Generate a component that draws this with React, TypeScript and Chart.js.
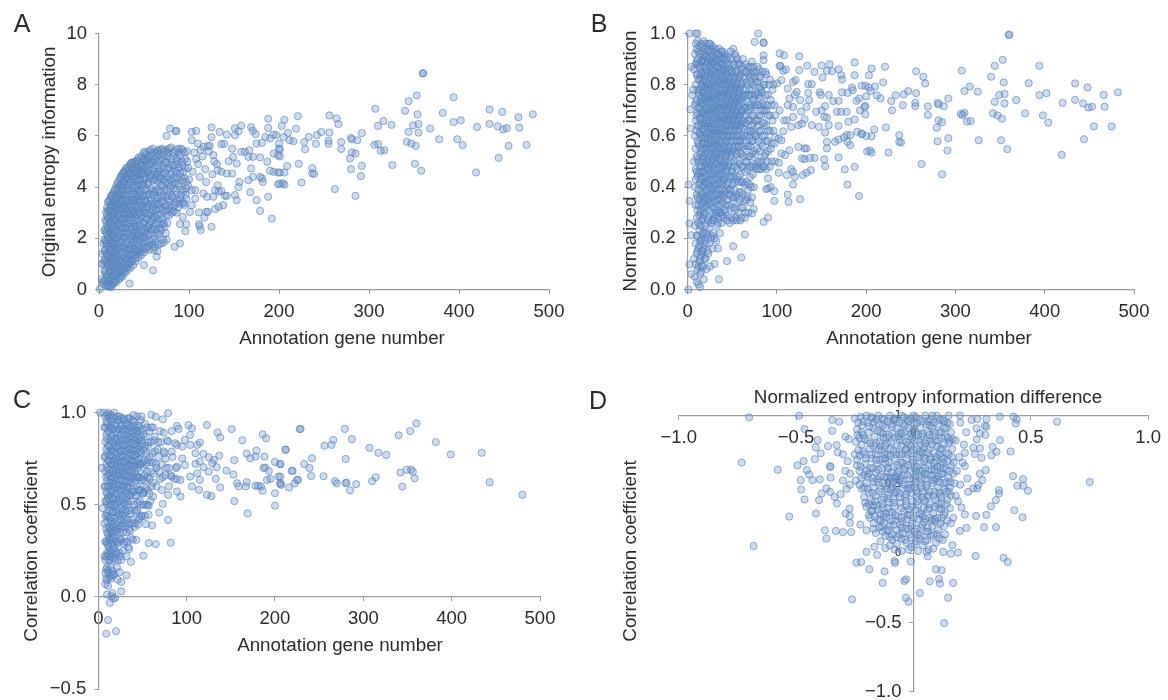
import React, { useEffect, useRef } from "react";
import { Chart, registerables } from "chart.js";

Chart.register(...registerables);

type P = number[];

const panelASparse: P[] = [[360,8.44],[360,8.45],[353,7.58],[344,7.36],[340,6.98],[394,7.51],[307,7.06],[382,6.9],[354,6.84],[434,7.03],[448,6.94],[466,6.73],[482,6.84],[221,6.77],[206,6.63],[256,6.8],[264,6.68],[266,6.46],[203,6.39],[219,6.28],[310,6.39],[316,6.58],[325,6.43],[349,6.41],[355,6.46],[394,6.54],[402,6.61],[420,6.35],[434,6.47],[443,6.37],[449,6.25],[453,6.3],[467,6.32],[368,6.29],[344,6.16],[355,6.13],[292,6.11],[256,6.13],[247,6.15],[242,6.03],[233,5.96],[210,6.12],[205,5.95],[212,5.83],[216,5.79],[228,5.76],[241,5.69],[255,5.81],[255,5.69],[269,5.76],[280,5.92],[281,5.87],[287,5.83],[306,5.65],[310,5.68],[342,5.77],[347,5.7],[352,5.61],[378,5.87],[398,5.87],[404,5.64],[455,5.61],[475,5.65],[229,5.48],[269,5.49],[281,5.36],[285,5.31],[313,5.42],[317,5.44],[279,5.12],[444,5.14],[201,5.47],[201,5.2],[222,4.91],[209,4.82],[237,4.74],[237,4.53],[239,4.52],[292,4.83],[280,4.7],[326,4.86],[351,4.91],[358,4.64],[419,4.57],[291,4.43],[206,4.57],[201,4.57],[225,4.18],[206,4.1],[204,4.15],[201,4.13],[262,3.92],[285,3.66]];

const panelAMiddle: P[] = [[79,6.29],[75,6],[86,6.2],[85,6.18],[103,6.16],[108,6.2],[125,6.33],[125,5.95],[134,6.16],[142,6.05],[151,6.3],[151,6.03],[155,6.18],[158,6.4],[169,6.34],[171,6.2],[174,6.07],[188,6.67],[188,6.31],[185,5.96],[103,5.83],[110,5.7],[116,5.57],[121,5.6],[136,5.68],[139,5.69],[148,5.5],[158,5.38],[162,5.38],[167,5.44],[175,5.7],[181,5.73],[190,5.9],[194,6.05],[197,6.03],[200,5.7],[200,5.5],[194,5.31],[199,5.25],[179,5.16],[171,5.18],[166,5.18],[149,5.18],[153,4.92],[144,5.01],[187,4.99],[190,4.64],[194,4.6],[199,4.57],[132,4.66],[136,4.6],[142,4.53],[148,4.53],[169,4.73],[166,4.27],[171,4.4],[179,4.4],[181,4.34],[182,4.2],[156,4.2],[155,4],[151,3.69],[153,3.49],[168,3.8],[175,3.49],[179,3.07],[188,3.62],[192,2.77],[199,4.11],[132,4.07],[129,3.88],[133,3.82],[136,3.85],[140,3.66],[142,3.66],[138,3.29],[133,3.23],[129,3.14],[125,2.45],[112,2.47],[113,2.32],[111,2.55],[96,2.28],[97,2.55],[90,2.55],[93,2.84],[90,1.8],[84,1.67],[101,3.03],[111,3.01],[119,3.03],[121,3.03],[117,2.81],[94,3.36],[103,3.29],[107,3.55],[116,3.75],[120,3.62],[127,3.62],[97,3.95],[103,3.88],[107,3.88],[104,4.6],[108,5.1],[112,4.4],[115,5.2],[118,4.7],[122,5.4],[126,4.5],[128,5],[131,4.9],[119,4.2],[110,4.9],[106,5.35],[100,4.3],[96,5.1],[99,4.75],[123,5.62],[113,5.45],[127,5.25]];

const panelADense: P[] = [[1,0.02],[3,0.4],[3,1],[4,0.3],[4,1.4],[5,0.22],[5,1.02],[5,1.8],[6,0.7],[6,1.5],[6,2.3],[7,0.33],[7,1.12],[7,1.9],[7,2.72],[8,0.62],[8,1.4],[8,2.24],[8,3.02],[9,0.2],[9,1.02],[9,1.72],[9,2.5],[9,3.2],[10,0.5],[10,1.33],[10,2.02],[10,2.8],[10,3.42],[11,0.12],[11,0.85],[11,1.6],[11,2.42],[11,3.12],[12,0.32],[12,1.13],[12,1.9],[12,2.63],[12,3.5],[13,0.08],[13,0.72],[13,1.42],[13,2.2],[13,3],[13,3.62],[14,0.45],[14,1.2],[14,1.77],[14,2.5],[14,3.3],[15,0.2],[15,0.9],[15,1.6],[15,2.1],[15,2.85],[15,3.72],[16,0.6],[16,1.32],[16,2.4],[16,3.1],[16,3.45],[17,0.3],[17,1.05],[17,1.85],[17,2.65],[17,3.85],[18,0.75],[18,1.5],[18,2.2],[18,2.95],[18,3.55],[19,0.28],[19,1.2],[19,1.95],[19,3.25],[19,4],[20,0.6],[20,1.62],[20,2.5],[20,3.7],[20,4.12],[21,0.95],[21,2.25],[21,2.85],[21,3.45],[22,0.4],[22,1.35],[22,1.85],[22,3.1],[22,3.95],[23,0.8],[23,2.6],[23,3.65],[23,4.3],[24,1.15],[24,1.65],[24,2.1],[24,2.95],[24,3.35],[24,4.1],[25,0.55],[25,1.45],[25,2.4],[25,3.8],[25,4.42],[26,0.95],[26,1.95],[26,2.75],[26,3.15],[26,4.2],[27,1.25],[27,2.25],[27,3.55],[27,4],[27,4.55],[28,0.7],[28,1.65],[28,2.6],[28,3.3],[28,3.85],[29,1.05],[29,2.05],[29,2.95],[29,4.35],[29,4.65],[30,1.4],[30,2.4],[30,3.6],[30,4.1],[31,0.85],[31,1.85],[31,2.75],[31,3.25],[31,4.5],[32,1.2],[32,2.2],[32,3.05],[32,3.9],[32,4.75],[33,1.55],[33,2.55],[33,3.5],[33,4.3],[34,0.23],[34,1],[34,2.95],[34,4.05],[34,4.85],[35,1.35],[35,1.95],[35,3.25],[35,3.7],[35,4.55],[36,1.7],[36,2.35],[36,2.8],[36,4.2],[36,4.95],[37,1.1],[37,3.1],[37,3.85],[37,4.7],[38,1.45],[38,2.15],[38,2.6],[38,3.45],[38,4.4],[39,1.85],[39,3],[39,4.05],[39,4.98],[40,1.2],[40,2.45],[40,3.6],[40,4.6],[41,1.55],[41,2.1],[41,2.85],[41,3.3],[41,4.25],[42,1.95],[42,3.1],[42,3.85],[42,4.8],[43,1.35],[43,2.35],[43,3.5],[43,4.45],[43,5],[44,1.7],[44,2.7],[44,4.1],[45,2.05],[45,3.25],[45,3.75],[45,4.65],[46,1.45],[46,2.5],[46,3],[46,4.3],[46,5.1],[47,1.85],[47,3.5],[47,4.85],[48,2.2],[48,2.8],[48,3.95],[48,4.5],[49,1.55],[49,3.2],[49,4.15],[49,5.05],[50,0.95],[50,2],[50,2.6],[50,3.65],[50,4.7],[50,5.35],[51,2.35],[51,3],[51,4.3],[52,1.65],[52,3.45],[52,3.9],[52,4.95],[53,2.15],[53,2.75],[53,4.55],[53,5.3],[54,1.85],[54,3.25],[54,4.1],[54,5.1],[55,2.45],[55,3.7],[55,4.7],[56,1.55],[56,2.9],[56,4.35],[56,5.4],[57,2.15],[57,3.45],[57,4.9],[58,2.65],[58,3.95],[58,4.5],[59,1.75],[59,3.15],[59,5.2],[60,0.75],[60,2.35],[60,3.7],[60,4.25],[60,5.5],[61,2.85],[61,4.75],[62,1.65],[62,2.05],[62,3.35],[62,5],[63,2.55],[63,3.9],[63,4.45],[64,1.28],[64,3.1],[64,5.3],[65,2.2],[65,3.6],[65,4.85],[66,1.75],[66,2.75],[66,4.2],[66,5.45],[67,3.3],[67,4.6],[68,2.4],[68,3.85],[68,5.1],[69,1.8],[69,2.95],[69,4.35],[70,3.45],[70,4.85],[70,5.5],[71,2.55],[71,3.1],[71,4.05],[72,1.85],[72,3.7],[72,5.25],[73,2.45],[73,4.55],[74,3.25],[74,4.2],[75,1.95],[75,2.9],[75,5],[75,5.45],[76,3.85],[76,4.7],[77,3.1],[77,5.35],[78,3.5],[78,4.3],[79,4.9],[80,3.2],[80,4.05],[80,5.55],[81,3.65],[81,4.6],[82,5.2],[83,3.05],[83,3.95],[83,4.35],[84,4.85],[85,3.4],[85,5.45],[86,3.7],[86,4.55],[87,5.05],[88,4.15],[88,3.2],[89,4.75],[89,5.35],[90,3.55],[91,4.4],[91,5.5],[92,3.9],[92,5],[93,3.4],[94,4.6],[95,5.35],[96,3.7],[97,4.2],[98,5.4]];

const panelADenseFill: P[] = [[6,0.35],[6,1.15],[6,1.95],[7,0.75],[7,1.55],[7,2.35],[8,0.15],[8,1.05],[8,1.8],[8,2.65],[9,0.55],[9,1.35],[9,2.15],[9,2.9],[10,0.15],[10,0.95],[10,1.7],[10,2.4],[10,3.1],[11,0.45],[11,1.25],[11,2],[11,2.75],[11,3.45],[12,0.7],[12,1.55],[12,2.25],[12,3.05],[13,0.4],[13,1.05],[13,1.8],[13,2.6],[13,3.3],[14,0.15],[14,0.85],[14,1.5],[14,2.15],[14,2.9],[14,3.65],[15,0.55],[15,1.25],[15,1.85],[15,2.5],[15,3.2],[16,0.25],[16,0.95],[16,1.65],[16,2.15],[16,2.75],[16,3.75],[17,0.7],[17,1.45],[17,2.25],[17,3],[17,3.4],[18,0.35],[18,1.15],[18,1.8],[18,2.55],[18,3.25],[18,3.9],[19,0.65],[19,1.55],[19,2.3],[19,2.75],[19,3.6],[20,0.95],[20,1.3],[20,2],[20,2.9],[20,3.35],[21,0.5],[21,1.25],[21,1.75],[21,3.15],[21,3.85],[21,4.2],[22,0.85],[22,2.2],[22,2.6],[22,3.5],[23,0.45],[23,1.15],[23,1.6],[23,2.05],[23,2.95],[23,3.3],[23,4.05],[24,0.7],[24,2.5],[24,3.7],[24,4.4],[25,0.95],[25,1.85],[25,2.75],[25,3.15],[25,4.1],[26,0.5],[26,1.35],[26,2.4],[26,3.5],[26,3.9],[26,4.5],[27,0.8],[27,1.7],[27,2.75],[27,3.25],[28,1.1],[28,2.05],[28,2.95],[28,4.2],[28,4.6],[29,0.65],[29,1.5],[29,2.4],[29,3.2],[29,3.7],[30,0.85],[30,1.8],[30,2.8],[30,3.15],[30,4.4],[30,4.75],[31,1.2],[31,2.2],[31,3.5],[31,3.95],[32,0.75],[32,1.6],[32,2.6],[32,3.4],[32,4.3],[33,1.05],[33,2.1],[33,2.95],[33,3.85],[33,4.65],[34,1.35],[34,1.75],[34,2.45],[34,3.3],[34,4.5],[35,0.85],[35,1.6],[35,2.7],[35,4.2],[35,4.9],[36,1.15],[36,2.1],[36,3.05],[36,3.5],[36,4.55],[37,1.45],[37,2.45],[37,3.4],[37,4.3],[37,4.95],[38,0.95],[38,1.85],[38,2.95],[38,3.75],[38,4.75],[39,1.35],[39,2.25],[39,2.7],[39,3.5],[39,4.45],[40,1.6],[40,2],[40,3.05],[40,3.95],[40,4.9],[41,1.1],[41,2.45],[41,3.7],[41,4.65],[42,1.5],[42,2.25],[42,2.75],[42,3.45],[42,4.35],[42,5.05],[43,1.85],[43,2.95],[43,4],[43,4.75],[44,1.25],[44,2.15],[44,3.25],[44,3.65],[44,4.55],[44,5.15],[45,1.55],[45,2.5],[45,3],[45,4.25],[46,1.95],[46,3.4],[46,3.85],[46,4.85],[47,1.35],[47,2.3],[47,2.9],[47,4.1],[47,4.55],[47,5.2],[48,1.65],[48,3.3],[48,4.85],[49,2.05],[49,2.6],[49,3.65],[49,4.55],[50,1.45],[50,3.1],[50,4.05],[50,5.1],[51,1.85],[51,3.45],[51,4.8],[51,5.38],[52,2.25],[52,2.8],[52,4.4],[53,1.6],[53,3.2],[53,3.7],[53,5.05],[54,2.45],[54,2.95],[54,4.6],[55,1.7],[55,2.15],[55,3.35],[55,4.2],[55,5.2],[56,2.55],[56,3.75],[56,4.9],[57,1.85],[57,3],[57,4.4],[57,5.45],[58,2.35],[58,3.35],[58,5.05],[59,2.75],[59,3.85],[59,4.65],[60,1.95],[60,3.05],[60,4.95],[61,1.55],[61,2.45],[61,3.45],[61,4.3],[61,5.35],[62,2.8],[62,3.8],[62,4.6],[63,1.85],[63,3.15],[63,5.15],[64,2.35],[64,3.55],[64,4.25],[65,1.5],[65,2.9],[65,4.55],[65,5.4],[66,3.35],[66,3.9],[66,5],[67,2.15],[67,2.6],[67,4.35],[67,5.25],[68,3.15],[68,4.7],[69,2.3],[69,3.6],[69,4.05],[69,5.45],[70,2.75],[70,4.5],[71,1.95],[71,3.4],[71,5.1],[72,2.6],[72,4.3],[72,4.75],[73,3.05],[73,3.9],[73,5.4],[74,2.2],[74,3.6],[74,4.95],[75,3.3],[75,4.4],[76,2.6],[76,5.2],[77,3.65],[77,4.15],[78,2.9],[78,4.75],[78,5.5],[79,3.3],[79,3.95],[80,4.5],[80,5.1],[81,3],[81,4.25],[82,3.6],[82,4.85],[83,5.35],[84,3.3],[84,4.15],[85,3.85],[85,4.65],[86,3],[86,5.15],[87,3.5],[87,4.35],[88,4.9],[88,5.5],[89,3.35],[89,4.05],[90,4.55],[90,5.2],[91,3.7],[92,4.25],[93,4.85],[93,5.45],[94,3.85],[95,4.35],[95,3.3],[96,4.75],[97,3.55],[98,5],[99,4.05]];

const panelBSparse: P[] = [[360,0.996],[360,0.994],[353,0.897],[344,0.874],[340,0.831],[394,0.874],[307,0.855],[382,0.806],[354,0.809],[434,0.805],[448,0.789],[466,0.76],[482,0.77],[221,0.87],[206,0.863],[203,0.837],[256,0.852],[264,0.831],[266,0.805],[219,0.809],[199,0.796],[203,0.789],[210,0.793],[205,0.776],[200,0.754],[212,0.758],[216,0.747],[228,0.736],[229,0.7],[233,0.759],[242,0.762],[247,0.775],[256,0.767],[255,0.729],[255,0.716],[241,0.72],[269,0.715],[269,0.682],[292,0.746],[280,0.729],[281,0.723],[287,0.716],[310,0.775],[316,0.793],[325,0.773],[349,0.76],[355,0.764],[394,0.759],[402,0.767],[420,0.729],[434,0.741],[443,0.727],[449,0.711],[453,0.714],[467,0.714],[368,0.74],[344,0.733],[355,0.727],[306,0.686],[310,0.69],[308,0.682],[342,0.688],[347,0.68],[352,0.667],[378,0.688],[398,0.68],[404,0.652],[455,0.637],[475,0.637],[281,0.661],[285,0.654],[313,0.656],[317,0.658],[279,0.632],[444,0.587],[222,0.633],[209,0.625],[237,0.603],[237,0.577],[239,0.574],[292,0.591],[280,0.579],[326,0.583],[351,0.583],[358,0.548],[419,0.526],[291,0.543],[206,0.598],[200,0.6],[195,0.607],[225,0.535],[206,0.535],[204,0.543],[201,0.539],[262,0.49],[285,0.45],[192,0.365]];

const panelBMiddle: P[] = [[1,0],[2,1],[9,1],[11,1],[4,0.87],[3,0.629],[2,0.346],[2,0.258],[4,0.212],[2,0.098],[4,0.06],[1,0.41],[3,0.703],[5,0.759],[6,0.78],[79,1],[75,0.967],[85,0.965],[85,0.963],[85,0.915],[85,0.896],[103,0.922],[108,0.915],[125,0.911],[103,0.874],[104,0.872],[107,0.854],[110,0.859],[125,0.857],[134,0.874],[142,0.85],[150,0.875],[151,0.828],[159,0.88],[156,0.854],[162,0.853],[169,0.86],[172,0.837],[173,0.82],[187,0.887],[187,0.837],[100,0.805],[105,0.818],[112,0.785],[118,0.811],[121,0.818],[135,0.802],[139,0.802],[122,0.772],[135,0.768],[148,0.77],[149,0.76],[158,0.76],[173,0.77],[179,0.768],[185,0.779],[184,0.789],[195,0.796],[192,0.746],[189,0.737],[114,0.746],[118,0.713],[126,0.74],[136,0.74],[133,0.713],[144,0.694],[150,0.7],[154,0.716],[163,0.736],[169,0.737],[167,0.694],[172,0.694],[178,0.694],[199,0.717],[198,0.713],[193,0.7],[199,0.684],[187,0.664],[180,0.655],[153,0.674],[156,0.672],[139,0.642],[147,0.635],[158,0.642],[169,0.639],[154,0.613],[190,0.616],[195,0.609],[178,0.603],[182,0.603],[175,0.594],[169,0.586],[165,0.577],[156,0.577],[156,0.551],[179,0.577],[182,0.564],[169,0.516],[153,0.508],[154,0.482],[142,0.514],[137,0.514],[128,0.512],[131,0.509],[187,0.479],[176,0.469],[138,0.466],[133,0.456],[129,0.447],[116,0.47],[118,0.46],[120,0.44],[111,0.447],[118,0.41],[179,0.41],[112,0.371],[113,0.342],[126,0.353],[97,0.346],[97,0.384],[90,0.395],[93,0.4],[88,0.392],[90,0.434],[85,0.479],[102,0.456],[102,0.495],[90,0.281],[85,0.264],[74,0.314],[72,0.297],[64,0.215],[60,0.125],[51,0.169],[44,0.111],[35,0.04],[114,0.544],[124,0.557],[131,0.551],[133,0.551],[109,0.525],[105,0.531],[98,0.596],[102,0.59],[105,0.583],[107,0.618],[116,0.635],[124,0.642],[128,0.648],[111,0.661],[118,0.674],[103,0.7],[108,0.66],[112,0.72],[120,0.76],[127,0.695],[131,0.665]];

const panelBDense: P[] = [[7,0.12],[7,0.5],[7,0.86],[8,0.05],[8,0.25],[8,0.4],[8,0.6],[8,0.72],[8,0.92],[9,0.1],[9,0.18],[9,0.33],[9,0.47],[9,0.55],[9,0.66],[9,0.8],[9,0.88],[9,0.96],[10,0.03],[10,0.14],[10,0.28],[10,0.37],[10,0.52],[10,0.62],[10,0.74],[10,0.84],[10,0.94],[11,0.08],[11,0.21],[11,0.31],[11,0.44],[11,0.58],[11,0.69],[11,0.78],[11,0.9],[11,0.97],[12,0.02],[12,0.16],[12,0.26],[12,0.39],[12,0.5],[12,0.64],[12,0.71],[12,0.82],[12,0.93],[13,0.11],[13,0.23],[13,0.35],[13,0.46],[13,0.56],[13,0.67],[13,0.76],[13,0.87],[13,0.95],[14,0.01],[14,0.06],[14,0.19],[14,0.3],[14,0.42],[14,0.53],[14,0.61],[14,0.73],[14,0.83],[14,0.92],[15,0.13],[15,0.25],[15,0.37],[15,0.48],[15,0.59],[15,0.69],[15,0.79],[15,0.89],[15,0.96],[16,0.09],[16,0.2],[16,0.33],[16,0.44],[16,0.55],[16,0.65],[16,0.75],[16,0.85],[16,0.93],[17,0.15],[17,0.28],[17,0.4],[17,0.51],[17,0.62],[17,0.72],[17,0.81],[17,0.9],[18,0.04],[18,0.22],[18,0.35],[18,0.46],[18,0.57],[18,0.68],[18,0.77],[18,0.87],[18,0.97],[19,0.12],[19,0.3],[19,0.42],[19,0.53],[19,0.64],[19,0.74],[19,0.84],[19,0.94],[20,0.18],[20,0.25],[20,0.38],[20,0.49],[20,0.6],[20,0.7],[20,0.8],[20,0.91],[21,0.08],[21,0.33],[21,0.45],[21,0.56],[21,0.66],[21,0.76],[21,0.86],[22,0.21],[22,0.28],[22,0.41],[22,0.52],[22,0.63],[22,0.73],[22,0.83],[22,0.93],[23,0.14],[23,0.36],[23,0.48],[23,0.59],[23,0.69],[23,0.79],[23,0.89],[24,0.24],[24,0.31],[24,0.43],[24,0.55],[24,0.65],[24,0.75],[24,0.85],[24,0.96],[25,0.09],[25,0.39],[25,0.5],[25,0.61],[25,0.71],[25,0.82],[25,0.91],[26,0.2],[26,0.34],[26,0.46],[26,0.57],[26,0.68],[26,0.78],[26,0.88],[27,0.27],[27,0.42],[27,0.53],[27,0.63],[27,0.74],[27,0.84],[27,0.94],[28,0.16],[28,0.37],[28,0.49],[28,0.6],[28,0.7],[28,0.8],[28,0.9],[29,0.22],[29,0.32],[29,0.45],[29,0.56],[29,0.66],[29,0.76],[29,0.86],[30,0.1],[30,0.28],[30,0.4],[30,0.52],[30,0.62],[30,0.72],[30,0.83],[30,0.93],[31,0.35],[31,0.47],[31,0.58],[31,0.69],[31,0.79],[31,0.89],[32,0.19],[32,0.3],[32,0.43],[32,0.54],[32,0.65],[32,0.75],[32,0.85],[33,0.25],[33,0.38],[33,0.5],[33,0.61],[33,0.71],[33,0.81],[33,0.92],[34,0.16],[34,0.33],[34,0.45],[34,0.57],[34,0.67],[34,0.77],[34,0.87],[35,0.28],[35,0.41],[35,0.53],[35,0.63],[35,0.73],[35,0.84],[35,0.94],[36,0.22],[36,0.36],[36,0.48],[36,0.6],[36,0.7],[36,0.8],[36,0.9],[37,0.3],[37,0.44],[37,0.55],[37,0.66],[37,0.76],[37,0.86],[38,0.26],[38,0.39],[38,0.51],[38,0.62],[38,0.72],[38,0.82],[38,0.93],[39,0.34],[39,0.47],[39,0.58],[39,0.68],[39,0.78],[39,0.88],[40,0.28],[40,0.42],[40,0.54],[40,0.65],[40,0.75],[40,0.85],[41,0.37],[41,0.49],[41,0.6],[41,0.71],[41,0.81],[41,0.91],[42,0.3],[42,0.44],[42,0.56],[42,0.67],[42,0.77],[42,0.87],[43,0.39],[43,0.52],[43,0.63],[43,0.73],[43,0.83],[44,0.27],[44,0.47],[44,0.58],[44,0.69],[44,0.79],[44,0.9],[45,0.35],[45,0.42],[45,0.54],[45,0.65],[45,0.75],[45,0.85],[46,0.49],[46,0.6],[46,0.71],[46,0.81],[47,0.26],[47,0.39],[47,0.56],[47,0.67],[47,0.77],[47,0.88],[48,0.44],[48,0.52],[48,0.63],[48,0.73],[48,0.83],[49,0.32],[49,0.58],[49,0.69],[49,0.79],[49,0.9],[50,0.41],[50,0.47],[50,0.54],[50,0.65],[50,0.75],[50,0.85],[51,0.27],[51,0.36],[51,0.6],[51,0.71],[51,0.81],[51,0.94],[52,0.5],[52,0.67],[52,0.77],[52,0.88],[53,0.31],[53,0.42],[53,0.56],[53,0.63],[53,0.73],[53,0.83],[54,0.36],[54,0.58],[54,0.69],[54,0.79],[54,0.91],[55,0.27],[55,0.47],[55,0.53],[55,0.65],[55,0.75],[55,0.85],[56,0.34],[56,0.44],[56,0.6],[56,0.71],[56,0.81],[57,0.56],[57,0.67],[57,0.77],[57,0.88],[58,0.38],[58,0.49],[58,0.63],[58,0.73],[58,0.83],[59,0.27],[59,0.58],[59,0.69],[59,0.79],[60,0.32],[60,0.42],[60,0.53],[60,0.65],[60,0.75],[60,0.86],[62,0.37],[62,0.48],[62,0.59],[62,0.7],[62,0.81],[62,0.9],[64,0.28],[64,0.41],[64,0.55],[64,0.65],[64,0.76],[64,0.85],[66,0.35],[66,0.5],[66,0.6],[66,0.71],[66,0.81],[68,0.39],[68,0.3],[68,0.56],[68,0.66],[68,0.76],[68,0.87],[70,0.44],[70,0.52],[70,0.62],[70,0.72],[70,0.83],[72,0.36],[72,0.48],[72,0.58],[72,0.68],[72,0.78],[72,0.89],[74,0.4],[74,0.54],[74,0.65],[74,0.75],[74,0.85],[76,0.48],[76,0.6],[76,0.71],[76,0.81],[78,0.55],[78,0.66],[78,0.77],[78,0.87],[80,0.5],[80,0.62],[80,0.72],[80,0.83],[82,0.47],[82,0.57],[82,0.68],[82,0.78],[84,0.6],[84,0.73],[84,0.85],[86,0.52],[86,0.65],[86,0.8],[88,0.47],[88,0.58],[88,0.7],[88,0.84],[90,0.54],[90,0.62],[90,0.76],[92,0.48],[92,0.68],[92,0.82],[94,0.57],[94,0.72],[96,0.62],[96,0.8],[98,0.5],[98,0.68]];

const panelBDenseFill: P[] = [[9,0.43],[9,0.73],[10,0.21],[10,0.46],[10,0.68],[10,0.89],[11,0.15],[11,0.36],[11,0.51],[11,0.64],[11,0.84],[12,0.09],[12,0.33],[12,0.45],[12,0.57],[12,0.77],[12,0.88],[13,0.17],[13,0.29],[13,0.41],[13,0.61],[13,0.71],[13,0.82],[14,0.12],[14,0.25],[14,0.36],[14,0.48],[14,0.67],[14,0.78],[14,0.87],[15,0.07],[15,0.19],[15,0.31],[15,0.43],[15,0.54],[15,0.64],[15,0.74],[15,0.84],[16,0.15],[16,0.27],[16,0.38],[16,0.5],[16,0.6],[16,0.7],[16,0.8],[16,0.89],[17,0.09],[17,0.22],[17,0.34],[17,0.46],[17,0.57],[17,0.67],[17,0.77],[17,0.95],[18,0.16],[18,0.29],[18,0.41],[18,0.52],[18,0.63],[18,0.73],[18,0.82],[18,0.92],[19,0.19],[19,0.36],[19,0.48],[19,0.59],[19,0.69],[19,0.79],[19,0.89],[20,0.12],[20,0.32],[20,0.44],[20,0.55],[20,0.65],[20,0.75],[20,0.85],[20,0.96],[21,0.22],[21,0.39],[21,0.5],[21,0.61],[21,0.71],[21,0.81],[21,0.91],[22,0.15],[22,0.35],[22,0.47],[22,0.57],[22,0.68],[22,0.78],[22,0.88],[23,0.27],[23,0.42],[23,0.53],[23,0.64],[23,0.74],[23,0.84],[23,0.94],[24,0.18],[24,0.37],[24,0.49],[24,0.6],[24,0.7],[24,0.8],[24,0.9],[25,0.33],[25,0.45],[25,0.56],[25,0.66],[25,0.76],[25,0.87],[25,0.96],[26,0.26],[26,0.4],[26,0.52],[26,0.63],[26,0.73],[26,0.83],[26,0.93],[27,0.21],[27,0.36],[27,0.48],[27,0.58],[27,0.69],[27,0.79],[27,0.89],[28,0.3],[28,0.43],[28,0.55],[28,0.65],[28,0.75],[28,0.85],[28,0.95],[29,0.27],[29,0.39],[29,0.51],[29,0.61],[29,0.71],[29,0.81],[29,0.91],[30,0.2],[30,0.34],[30,0.46],[30,0.57],[30,0.67],[30,0.77],[30,0.88],[31,0.29],[31,0.41],[31,0.53],[31,0.63],[31,0.74],[31,0.84],[31,0.94],[32,0.37],[32,0.49],[32,0.6],[32,0.7],[32,0.8],[32,0.9],[33,0.31],[33,0.44],[33,0.56],[33,0.66],[33,0.76],[33,0.87],[34,0.26],[34,0.39],[34,0.51],[34,0.62],[34,0.72],[34,0.82],[34,0.92],[35,0.35],[35,0.47],[35,0.58],[35,0.68],[35,0.78],[35,0.89],[36,0.3],[36,0.42],[36,0.54],[36,0.65],[36,0.75],[36,0.85],[37,0.37],[37,0.5],[37,0.61],[37,0.71],[37,0.81],[37,0.91],[38,0.33],[38,0.45],[38,0.57],[38,0.67],[38,0.77],[38,0.88],[39,0.29],[39,0.41],[39,0.53],[39,0.63],[39,0.73],[39,0.83],[39,0.93],[40,0.36],[40,0.48],[40,0.6],[40,0.7],[40,0.8],[40,0.9],[41,0.31],[41,0.43],[41,0.55],[41,0.66],[41,0.76],[41,0.86],[42,0.38],[42,0.5],[42,0.62],[42,0.72],[42,0.82],[42,0.92],[43,0.33],[43,0.46],[43,0.58],[43,0.68],[43,0.78],[43,0.88],[44,0.41],[44,0.53],[44,0.64],[44,0.74],[44,0.84],[45,0.29],[45,0.48],[45,0.6],[45,0.7],[45,0.8],[45,0.91],[46,0.37],[46,0.44],[46,0.55],[46,0.66],[46,0.76],[46,0.86],[47,0.33],[47,0.5],[47,0.62],[47,0.72],[47,0.82],[48,0.39],[48,0.58],[48,0.68],[48,0.78],[48,0.93],[49,0.28],[49,0.46],[49,0.53],[49,0.64],[49,0.74],[49,0.85],[50,0.36],[50,0.6],[50,0.7],[50,0.8],[51,0.44],[51,0.55],[51,0.66],[51,0.76],[51,0.88],[52,0.32],[52,0.39],[52,0.62],[52,0.72],[52,0.82],[53,0.48],[53,0.68],[53,0.78],[53,0.92],[54,0.28],[54,0.43],[54,0.53],[54,0.64],[54,0.74],[54,0.85],[55,0.37],[55,0.6],[55,0.7],[55,0.8],[56,0.5],[56,0.56],[56,0.66],[56,0.76],[56,0.9],[57,0.3],[57,0.42],[57,0.62],[57,0.72],[57,0.83],[58,0.35],[58,0.58],[58,0.68],[58,0.78],[58,0.88],[59,0.45],[59,0.53],[59,0.64],[59,0.74],[59,0.84],[60,0.28],[60,0.38],[60,0.6],[60,0.7],[60,0.8],[61,0.48],[61,0.56],[61,0.66],[61,0.76],[61,0.87],[62,0.32],[62,0.42],[62,0.63],[62,0.73],[63,0.52],[63,0.68],[63,0.78],[63,0.83],[64,0.35],[64,0.46],[64,0.6],[64,0.71],[65,0.3],[65,0.5],[65,0.65],[65,0.76],[65,0.88],[66,0.42],[66,0.56],[66,0.68],[66,0.85],[67,0.36],[67,0.47],[67,0.62],[67,0.73],[67,0.8],[68,0.52],[68,0.7],[68,0.84],[69,0.41],[69,0.59],[69,0.66],[69,0.78],[70,0.34],[70,0.48],[70,0.56],[70,0.76],[70,0.87],[71,0.4],[71,0.62],[71,0.71],[71,0.81],[72,0.53],[72,0.64],[72,0.84],[73,0.45],[73,0.58],[73,0.74],[73,0.87],[74,0.49],[74,0.68],[74,0.8],[75,0.61],[75,0.72],[75,0.83],[76,0.53],[76,0.66],[76,0.76],[77,0.47],[77,0.6],[77,0.85],[78,0.5],[78,0.72],[78,0.81],[79,0.58],[79,0.64],[79,0.76],[80,0.47],[80,0.68],[80,0.86],[81,0.54],[81,0.75],[81,0.79],[82,0.62],[82,0.83],[83,0.5],[83,0.7],[83,0.77],[84,0.56],[84,0.65],[85,0.48],[85,0.72],[85,0.8],[86,0.6],[86,0.7],[87,0.53],[87,0.76],[87,0.85],[88,0.64],[89,0.5],[89,0.72],[90,0.58],[90,0.68],[91,0.8],[92,0.62],[93,0.55],[93,0.74],[94,0.5],[95,0.66],[95,0.78],[97,0.57],[97,0.72]];

const panelCSparse: P[] = [[229,0.912],[279,0.912],[360,0.942],[353,0.9],[340,0.877],[382,0.841],[434,0.782],[399,0.773],[443,0.623],[480,0.554],[266,0.852],[264,0.825],[256,0.821],[287,0.856],[212,0.798],[242,0.753],[280,0.749],[307,0.809],[317,0.782],[326,0.771],[206,0.72],[233,0.722],[239,0.7],[219,0.684],[241,0.657],[255,0.655],[225,0.635],[222,0.616],[216,0.594],[206,0.614],[206,0.653],[268,0.628],[270,0.616],[281,0.619],[280,0.618],[285,0.579],[292,0.612],[310,0.628],[314,0.65],[342,0.675],[349,0.69],[354,0.691],[356,0.68],[358,0.644],[344,0.599]];

const panelCMiddle: P[] = [[79,0.998],[73,0.964],[60,0.989],[65,0.978],[49,0.98],[40,0.987],[89,0.928],[91,0.912],[83,0.9],[102,0.933],[106,0.915],[123,0.933],[135,0.893],[138,0.866],[151,0.911],[163,0.85],[186,0.883],[190,0.861],[228,0.911],[212,0.8],[104,0.879],[98,0.852],[115,0.838],[112,0.825],[104,0.825],[95,0.816],[89,0.825],[87,0.834],[74,0.892],[79,0.843],[83,0.789],[110,0.78],[119,0.776],[125,0.758],[131,0.744],[137,0.767],[168,0.778],[179,0.794],[172,0.753],[178,0.762],[188,0.762],[200,0.733],[206,0.722],[220,0.684],[154,0.742],[145,0.686],[153,0.664],[133,0.641],[138,0.594],[157,0.617],[159,0.6],[167,0.6],[168,0.623],[178,0.603],[181,0.603],[184,0.6],[186,0.576],[187,0.7],[189,0.702],[193,0.684],[191,0.635],[195,0.641],[204,0.653],[206,0.617],[207,0.608],[200,0.563],[200,0.495],[154,0.52],[169,0.453],[226,0.635],[123,0.554],[128,0.547],[114,0.581],[106,0.6],[115,0.635],[104,0.653],[112,0.671],[119,0.704],[129,0.725],[134,0.704],[125,0.68],[115,0.735],[110,0.722],[98,0.716],[95,0.752],[89,0.707],[93,0.635],[89,0.64],[83,0.653],[89,0.572],[93,0.545],[79,0.554],[73,0.505],[69,0.458],[79,0.417],[82,0.294],[65,0.287],[57,0.292],[51,0.224],[61,0.388],[54,0.395],[45,0.392],[57,0.446],[49,0.437],[51,0.5],[57,0.495],[62,0.545],[51,0.563],[32,0.117],[26,0.03],[26,0.081],[22,0.094],[24,0.134],[17,-0.009],[13,-0.032],[10,0.012],[15,0.004],[19,-0.005],[11,-0.126],[9,-0.2],[20,-0.186],[4,0.7],[5,0.482],[2,1],[6,1]];

const panelCDense: P[] = [[7,0.22],[7,0.4],[7,0.6],[7,0.76],[7,0.92],[8,0.13],[8,0.3],[8,0.52],[8,0.68],[8,0.84],[8,0.98],[9,0.1],[9,0.22],[9,0.37],[9,0.45],[9,0.57],[9,0.72],[9,0.88],[10,0.16],[10,0.29],[10,0.41],[10,0.5],[10,0.63],[10,0.78],[10,0.94],[11,0.06],[11,0.23],[11,0.34],[11,0.54],[11,0.66],[11,0.82],[11,1],[12,0.13],[12,0.27],[12,0.38],[12,0.47],[12,0.6],[12,0.74],[12,0.9],[13,0.2],[13,0.31],[13,0.43],[13,0.55],[13,0.69],[13,0.85],[13,0.98],[14,0.1],[14,0.16],[14,0.36],[14,0.5],[14,0.64],[14,0.79],[14,0.93],[15,0.24],[15,0.29],[15,0.41],[15,0.58],[15,0.72],[15,0.87],[16,0.02],[16,0.14],[16,0.33],[16,0.46],[16,0.62],[16,0.76],[16,0.97],[17,0.21],[17,0.38],[17,0.53],[17,0.67],[17,0.81],[17,0.91],[18,0.12],[18,0.27],[18,0.43],[18,0.58],[18,0.72],[18,0.86],[18,1],[19,0.31],[19,0.49],[19,0.63],[19,0.77],[19,0.94],[20,0.23],[20,0.36],[20,0.54],[20,0.68],[20,0.82],[21,0.16],[21,0.41],[21,0.59],[21,0.73],[21,0.89],[21,0.98],[22,0.29],[22,0.47],[22,0.64],[22,0.78],[23,0.37],[23,0.53],[23,0.69],[23,0.84],[23,0.96],[24,0.24],[24,0.44],[24,0.6],[24,0.74],[24,0.91],[25,0.31],[25,0.5],[25,0.66],[25,0.8],[26,0.2],[26,0.39],[26,0.57],[26,0.71],[26,0.86],[26,0.97],[27,0.46],[27,0.63],[27,0.77],[27,0.93],[28,0.25],[28,0.35],[28,0.53],[28,0.68],[28,0.83],[29,0.42],[29,0.6],[29,0.74],[29,0.9],[30,0.3],[30,0.5],[30,0.66],[30,0.8],[30,0.96],[31,0.38],[31,0.56],[31,0.71],[31,0.86],[32,0.22],[32,0.46],[32,0.62],[32,0.77],[32,0.93],[33,0.3],[33,0.52],[33,0.68],[33,0.83],[34,0.4],[34,0.59],[34,0.74],[34,0.89],[35,0.26],[35,0.47],[35,0.65],[35,0.8],[35,0.97],[36,0.36],[36,0.55],[36,0.71],[36,0.86],[37,0.19],[37,0.62],[37,0.77],[37,0.92],[38,0.42],[38,0.67],[38,0.83],[39,0.31],[39,0.57],[39,0.73],[39,0.89],[40,0.5],[40,0.64],[40,0.79],[40,0.95],[41,0.38],[41,0.7],[41,0.85],[42,0.55],[42,0.76],[42,0.91],[43,0.31],[43,0.46],[43,0.66],[43,0.82],[44,0.6],[44,0.72],[44,0.88],[44,0.98],[45,0.51],[45,0.78],[45,0.93],[46,0.65],[46,0.84],[47,0.43],[47,0.58],[47,0.72],[47,0.9],[48,0.5],[48,0.79],[48,0.96],[49,0.63],[49,0.85],[50,0.56],[50,0.73],[50,0.91],[52,0.66],[52,0.8],[53,0.44],[53,0.94],[54,0.59],[54,0.72],[54,0.87],[56,0.5],[56,0.65],[56,0.82],[58,0.56],[58,0.76],[58,0.9],[60,0.68],[60,0.84],[62,0.62],[62,0.73],[62,0.92],[64,0.79],[64,0.87],[66,0.6],[66,0.7],[68,0.76],[68,0.84],[70,0.64],[70,0.9],[72,0.72],[72,0.58],[74,0.79],[76,0.66],[76,0.75],[78,0.85],[80,0.6],[80,0.7],[84,0.76],[86,0.64],[88,0.7]];

const panelCDenseFill: P[] = [[8,0.07],[8,0.2],[8,0.44],[8,0.6],[8,0.76],[8,0.92],[9,0.15],[9,0.3],[9,0.52],[9,0.65],[9,0.8],[9,0.95],[10,0.09],[10,0.24],[10,0.35],[10,0.56],[10,0.7],[10,0.86],[10,0.99],[11,0.14],[11,0.28],[11,0.44],[11,0.6],[11,0.74],[11,0.9],[12,0.2],[12,0.32],[12,0.53],[12,0.67],[12,0.82],[12,0.97],[13,0.11],[13,0.25],[13,0.37],[13,0.49],[13,0.62],[13,0.77],[13,0.92],[14,0.22],[14,0.31],[14,0.43],[14,0.57],[14,0.72],[14,0.86],[14,0.99],[15,0.12],[15,0.35],[15,0.5],[15,0.65],[15,0.8],[15,0.95],[16,0.26],[16,0.39],[16,0.54],[16,0.69],[16,0.84],[16,0.91],[17,0.12],[17,0.32],[17,0.46],[17,0.6],[17,0.74],[17,0.98],[18,0.2],[18,0.36],[18,0.5],[18,0.65],[18,0.79],[18,0.93],[19,0.25],[19,0.4],[19,0.56],[19,0.7],[19,0.85],[20,0.3],[20,0.46],[20,0.61],[20,0.75],[20,0.9],[21,0.24],[21,0.35],[21,0.51],[21,0.66],[21,0.81],[22,0.2],[22,0.39],[22,0.56],[22,0.71],[22,0.86],[22,0.96],[23,0.3],[23,0.45],[23,0.61],[23,0.76],[23,0.91],[24,0.35],[24,0.52],[24,0.67],[24,0.82],[24,0.98],[25,0.22],[25,0.42],[25,0.58],[25,0.73],[25,0.88],[26,0.31],[26,0.48],[26,0.64],[26,0.79],[26,0.93],[27,0.38],[27,0.55],[27,0.7],[27,0.85],[28,0.44],[28,0.6],[28,0.76],[28,0.91],[29,0.29],[29,0.51],[29,0.67],[29,0.82],[29,0.97],[30,0.4],[30,0.58],[30,0.73],[30,0.88],[31,0.47],[31,0.63],[31,0.79],[31,0.94],[32,0.35],[32,0.54],[32,0.7],[32,0.85],[33,0.42],[33,0.6],[33,0.75],[33,0.91],[34,0.27],[34,0.5],[34,0.66],[34,0.81],[34,0.97],[35,0.37],[35,0.56],[35,0.72],[35,0.87],[36,0.45],[36,0.63],[36,0.78],[36,0.93],[37,0.32],[37,0.52],[37,0.69],[37,0.84],[38,0.58],[38,0.74],[38,0.9],[39,0.4],[39,0.65],[39,0.8],[39,0.96],[40,0.57],[40,0.71],[40,0.87],[41,0.47],[41,0.62],[41,0.77],[41,0.93],[42,0.4],[42,0.68],[42,0.83],[43,0.55],[43,0.74],[43,0.9],[44,0.47],[44,0.65],[44,0.8],[45,0.58],[45,0.7],[45,0.86],[46,0.42],[46,0.75],[46,0.92],[47,0.52],[47,0.65],[47,0.82],[48,0.58],[48,0.72],[48,0.87],[49,0.44],[49,0.78],[50,0.64],[50,0.83],[51,0.7],[51,0.88],[52,0.57],[52,0.74],[53,0.63],[53,0.82],[54,0.5],[54,0.78],[55,0.68],[55,0.92],[56,0.58],[56,0.74],[57,0.84],[58,0.64],[59,0.52],[59,0.73],[60,0.6],[60,0.92],[61,0.78],[63,0.67],[63,0.85],[65,0.72],[67,0.8],[69,0.68],[71,0.84],[73,0.65],[75,0.78],[77,0.7],[82,0.66]];

const panelDOuter: P[] = [[-0.7,0.988],[-0.487,1],[-0.732,0.661],[-0.578,0.608],[-0.529,0.269],[-0.681,0.056],[-0.464,0.903],[-0.408,0.823],[-0.416,0.77],[-0.395,0.727],[-0.42,0.685],[-0.364,0.78],[-0.327,0.787],[-0.346,0.891],[-0.322,0.734],[-0.468,0.671],[-0.494,0.64],[-0.355,0.635],[-0.354,0.628],[-0.454,0.606],[-0.444,0.574],[-0.48,0.533],[-0.43,0.533],[-0.399,0.538],[-0.353,0.552],[-0.478,0.465],[-0.464,0.393],[-0.402,0.388],[-0.391,0.436],[-0.371,0.473],[-0.355,0.448],[-0.336,0.412],[-0.326,0.364],[-0.31,0.431],[-0.415,0.291],[-0.377,0.17],[-0.371,0.11],[-0.331,0.165],[-0.3,0.156],[-0.265,0.156],[-0.272,0.327],[-0.289,0.291],[-0.271,0.274],[-0.271,0.223],[-0.226,0.211],[-0.2,0.17],[-0.166,0.05],[-0.2,0.013],[-0.155,-0.009],[-0.243,-0.065],[-0.223,-0.06],[-0.188,-0.113],[-0.123,-0.128],[-0.131,-0.212],[-0.08,-0.053],[-0.078,-0.067],[-0.038,-0.198],[-0.031,-0.186],[-0.011,-0.057],[-0.261,-0.331],[-0.032,-0.319],[-0.021,-0.348],[0.028,-0.285],[0.07,-0.2],[0.096,-0.113],[0.12,-0.12],[0.109,-0.183],[0.113,-0.217],[0.169,-0.212],[0.148,-0.319],[0.131,-0.503],[0.19,0.008],[0.159,0],[0.127,0.013],[0.056,0.013],[0.085,0.037],[0.166,0.061],[0.265,-0.016],[0.384,-0.03],[0.402,-0.06],[-0.346,0.969],[-0.317,0.956],[-0.29,0.848],[-0.275,0.83],[-0.3,0.72],[-0.28,0.67],[-0.29,0.6],[-0.27,0.58],[-0.3,0.53],[-0.285,0.47],[-0.27,0.5],[0.198,1],[0.248,0.969],[0.272,0.976],[0.311,0.976],[0.368,0.993],[0.427,0.993],[0.44,0.973],[0.436,0.944],[0.612,0.956],[0.304,0.927],[0.311,0.92],[0.269,0.908],[0.307,0.86],[0.283,0.872],[0.27,0.828],[0.369,0.823],[0.337,0.775],[0.255,0.768],[0.283,0.763],[0.354,0.739],[0.414,0.741],[0.332,0.714],[0.262,0.722],[0.29,0.695],[0.219,0.731],[0.219,0.635],[0.308,0.606],[0.283,0.579],[0.424,0.562],[0.467,0.54],[0.293,0.533],[0.443,0.492],[0.468,0.492],[0.488,0.456],[0.751,0.519],[0.23,0.545],[0.276,0.497],[0.255,0.473],[0.272,0.473],[0.233,0.448],[0.364,0.46],[0.365,0.436],[0.351,0.388],[0.33,0.344],[0.43,0.315],[0.465,0.264],[0.267,0.274],[0.311,0.281],[0.219,0.284],[0.205,0.335],[0.301,0.192],[0.352,0.192],[0.226,0.187],[0.198,0.165],[0.061,-0.019],[0.2,0.95],[0.225,0.88],[0.18,0.82],[0.215,0.79],[0.195,0.7],[0.21,0.66],[0.185,0.6],[0.2,0.5],[0.18,0.42],[0.19,0.38],[0.17,0.26],[0.16,0.22]];

const panelDCore: P[] = [[-0.25,0.98],[-0.24,0.9],[-0.245,0.81],[-0.235,0.75],[-0.24,0.68],[-0.23,0.6],[-0.245,0.53],[-0.22,0.47],[-0.21,0.41],[-0.2,0.34],[-0.19,0.28],[-0.17,0.22],[-0.16,0.15],[-0.14,0.09],[-0.12,0.04],[-0.225,0.99],[-0.22,0.93],[-0.215,0.86],[-0.22,0.79],[-0.21,0.72],[-0.205,0.65],[-0.21,0.57],[-0.2,0.51],[-0.19,0.44],[-0.18,0.38],[-0.175,0.31],[-0.15,0.25],[-0.145,0.19],[-0.12,0.13],[-0.1,0.06],[-0.2,1],[-0.195,0.95],[-0.19,0.88],[-0.195,0.82],[-0.185,0.76],[-0.18,0.69],[-0.185,0.62],[-0.175,0.55],[-0.17,0.48],[-0.16,0.42],[-0.155,0.35],[-0.14,0.29],[-0.125,0.22],[-0.115,0.17],[-0.09,0.1],[-0.08,0.03],[-0.175,0.98],[-0.17,0.91],[-0.165,0.85],[-0.17,0.78],[-0.16,0.72],[-0.155,0.65],[-0.16,0.59],[-0.15,0.52],[-0.145,0.45],[-0.135,0.39],[-0.13,0.33],[-0.115,0.26],[-0.1,0.2],[-0.09,0.14],[-0.07,0.07],[-0.15,1],[-0.145,0.94],[-0.14,0.88],[-0.145,0.81],[-0.135,0.75],[-0.13,0.69],[-0.135,0.62],[-0.125,0.56],[-0.12,0.49],[-0.11,0.43],[-0.105,0.37],[-0.09,0.3],[-0.08,0.24],[-0.07,0.17],[-0.05,0.11],[-0.05,0.02],[-0.125,0.97],[-0.12,0.91],[-0.115,0.84],[-0.12,0.78],[-0.11,0.72],[-0.105,0.66],[-0.11,0.59],[-0.1,0.53],[-0.095,0.46],[-0.085,0.4],[-0.08,0.34],[-0.065,0.27],[-0.055,0.21],[-0.045,0.15],[-0.03,0.08],[-0.02,0.03],[-0.1,1],[-0.095,0.94],[-0.09,0.87],[-0.095,0.81],[-0.085,0.75],[-0.08,0.69],[-0.085,0.63],[-0.075,0.56],[-0.07,0.5],[-0.06,0.44],[-0.055,0.37],[-0.04,0.31],[-0.03,0.25],[-0.02,0.18],[-0.01,0.12],[-0.01,0.05],[-0.075,0.97],[-0.07,0.91],[-0.065,0.85],[-0.07,0.78],[-0.06,0.72],[-0.055,0.66],[-0.06,0.6],[-0.05,0.53],[-0.045,0.47],[-0.035,0.41],[-0.03,0.35],[-0.015,0.28],[-0.005,0.22],[0.005,0.16],[0.01,0.09],[0.02,0.02],[-0.05,1],[-0.045,0.94],[-0.04,0.88],[-0.045,0.82],[-0.035,0.75],[-0.03,0.69],[-0.035,0.63],[-0.025,0.57],[-0.02,0.5],[-0.01,0.44],[-0.005,0.38],[0.01,0.32],[0.02,0.25],[0.03,0.19],[0.03,0.13],[0.04,0.06],[-0.025,0.97],[-0.02,0.91],[-0.015,0.85],[-0.02,0.79],[-0.01,0.73],[-0.005,0.66],[-0.01,0.6],[0,0.54],[0.005,0.48],[0.015,0.41],[0.02,0.35],[0.035,0.29],[0.045,0.23],[0.055,0.16],[0.06,0.1],[0.065,0.03],[0,1],[0.005,0.94],[0.01,0.88],[0.005,0.82],[0.015,0.76],[0.02,0.7],[0.015,0.63],[0.025,0.57],[0.03,0.51],[0.04,0.45],[0.045,0.39],[0.06,0.32],[0.07,0.26],[0.08,0.2],[0.085,0.14],[0.095,0.08],[0.025,0.97],[0.03,0.91],[0.035,0.85],[0.03,0.79],[0.04,0.73],[0.045,0.67],[0.04,0.6],[0.05,0.54],[0.055,0.48],[0.065,0.42],[0.07,0.36],[0.085,0.29],[0.095,0.23],[0.105,0.17],[0.11,0.11],[0.05,1],[0.055,0.94],[0.06,0.88],[0.055,0.82],[0.065,0.76],[0.07,0.7],[0.065,0.64],[0.075,0.57],[0.08,0.51],[0.09,0.45],[0.095,0.39],[0.11,0.33],[0.12,0.26],[0.13,0.2],[0.135,0.14],[0.075,0.97],[0.08,0.91],[0.085,0.85],[0.08,0.79],[0.09,0.73],[0.095,0.67],[0.09,0.61],[0.1,0.54],[0.105,0.48],[0.115,0.42],[0.12,0.36],[0.135,0.3],[0.145,0.24],[0.1,1],[0.105,0.94],[0.11,0.88],[0.105,0.82],[0.115,0.76],[0.12,0.7],[0.115,0.64],[0.125,0.58],[0.13,0.51],[0.14,0.45],[0.145,0.39],[0.155,0.33],[0.125,0.97],[0.13,0.91],[0.135,0.85],[0.13,0.79],[0.14,0.73],[0.145,0.67],[0.14,0.61],[0.15,0.55],[0.155,0.48],[0.16,0.42],[0.15,1],[0.155,0.94],[0.16,0.88],[0.155,0.82],[0.165,0.76],[0.165,0.7],[0.16,0.64],[0.17,0.58],[0.175,0.51],[-0.235,0.95],[-0.23,0.84],[-0.25,0.72],[-0.225,0.63],[-0.23,0.5],[-0.205,0.37],[-0.185,0.26],[-0.17,0.35],[-0.16,0.68],[-0.14,0.78],[-0.13,0.51],[-0.11,0.62],[-0.09,0.48],[-0.07,0.58],[-0.05,0.72],[-0.03,0.43],[-0.01,0.78],[0.01,0.52],[0.03,0.66],[0.05,0.38],[0.07,0.82],[0.09,0.6],[0.11,0.52],[0.13,0.69],[0.15,0.45],[0.07,0.45],[0.04,0.27],[0.02,0.44],[-0.02,0.32],[-0.05,0.26],[-0.08,0.44],[-0.11,0.33],[-0.14,0.24],[-0.1,0.76],[-0.06,0.83],[-0.02,0.96],[0.02,0.86],[0.06,0.73],[0.1,0.78],[0.14,0.91],[-0.17,0.95],[-0.13,0.87],[-0.09,0.92],[-0.04,0.99],[0,0.9],[0.04,0.96],[0.08,1],[0.12,0.84],[-0.19,0.58],[-0.15,0.61],[-0.12,0.69],[-0.08,0.55],[-0.04,0.61],[0,0.68],[0.05,0.62],[0.09,0.54],[0.12,0.41],[-0.17,0.18],[-0.13,0.16],[-0.1,0.12],[-0.06,0.14],[-0.03,0.18],[0.02,0.14],[0.06,0.19],[0.1,0.14],[0.125,0.1]];

const panelDCoreFill: P[] = [[-0.238,0.86],[-0.228,0.71],[-0.222,0.55],[-0.212,0.96],[-0.208,0.83],[-0.202,0.69],[-0.198,0.6],[-0.195,0.47],[-0.188,0.92],[-0.183,0.8],[-0.178,0.72],[-0.172,0.62],[-0.168,0.52],[-0.163,0.38],[-0.158,0.97],[-0.153,0.89],[-0.148,0.75],[-0.143,0.68],[-0.141,0.56],[-0.138,0.47],[-0.132,0.36],[-0.127,0.27],[-0.133,0.98],[-0.128,0.84],[-0.123,0.72],[-0.118,0.65],[-0.115,0.55],[-0.112,0.47],[-0.107,0.4],[-0.102,0.3],[-0.095,0.24],[-0.11,0.96],[-0.105,0.86],[-0.098,0.71],[-0.092,0.59],[-0.088,0.52],[-0.083,0.37],[-0.076,0.28],[-0.085,0.97],[-0.08,0.84],[-0.073,0.72],[-0.068,0.64],[-0.064,0.53],[-0.058,0.41],[-0.052,0.33],[-0.046,0.23],[-0.06,0.95],[-0.055,0.88],[-0.052,0.78],[-0.048,0.66],[-0.042,0.57],[-0.038,0.5],[-0.032,0.38],[-0.025,0.28],[-0.012,0.2],[-0.035,0.93],[-0.03,0.81],[-0.025,0.72],[-0.022,0.64],[-0.016,0.54],[-0.012,0.47],[-0.006,0.34],[0.002,0.26],[0.014,0.18],[-0.01,0.98],[-0.005,0.84],[0,0.75],[0.004,0.62],[0.008,0.56],[0.012,0.46],[0.017,0.38],[0.026,0.29],[0.038,0.21],[0.015,0.95],[0.022,0.82],[0.025,0.72],[0.028,0.6],[0.034,0.54],[0.038,0.41],[0.044,0.33],[0.052,0.25],[0.063,0.16],[0.04,0.87],[0.046,0.77],[0.05,0.69],[0.052,0.58],[0.058,0.5],[0.062,0.42],[0.068,0.33],[0.078,0.24],[0.062,0.96],[0.068,0.86],[0.072,0.68],[0.078,0.61],[0.083,0.53],[0.086,0.42],[0.092,0.34],[0.102,0.26],[0.088,0.95],[0.094,0.82],[0.098,0.7],[0.102,0.63],[0.108,0.56],[0.11,0.44],[0.118,0.32],[0.112,0.97],[0.118,0.88],[0.122,0.76],[0.126,0.66],[0.12,0.58],[0.132,0.47],[0.14,0.36],[0.145,0.95],[0.148,0.84],[0.15,0.72],[0.153,0.6],[0.158,0.52],[0.168,0.83],[0.172,0.66],[-0.215,0.74],[-0.21,0.48],[-0.19,0.36],[-0.18,0.31],[-0.165,0.27],[-0.15,0.32],[-0.135,0.2],[-0.12,0.29],[-0.105,0.17],[-0.085,0.21],[-0.07,0.12],[-0.05,0.19],[-0.035,0.1],[-0.015,0.14],[0.005,0.07],[0.025,0.11],[0.05,0.09],[0.075,0.13],[0.09,0.25],[0.115,0.22],[0.13,0.28],[-0.24,0.64],[-0.195,0.56],[-0.175,0.44],[-0.155,0.54],[-0.125,0.41],[-0.095,0.55],[-0.075,0.45],[-0.055,0.55],[-0.025,0.47],[0.01,0.6],[0.035,0.48],[0.06,0.57],[0.085,0.66],[0.105,0.36],[0.125,0.62],[0.14,0.52],[-0.22,0.88],[-0.18,0.99],[-0.16,0.8],[-0.13,0.93],[-0.11,0.8],[-0.08,0.98],[-0.05,0.87],[-0.03,0.76],[-0.01,0.87],[0.01,0.99],[0.03,0.74],[0.05,0.8],[0.07,0.93],[0.09,0.88],[0.11,0.72],[0.13,0.96],[0.15,0.8]];

const xTicksGene = [0, 100, 200, 300, 400, 500];
const yTicksA = [0, 2, 4, 6, 8, 10];
const yTicksB = [0, 0.2, 0.4, 0.6, 0.8, 1];
const yTicksC = [-0.5, 0, 0.5, 1];
const xTicksD = [-1, -0.5, 0, 0.5, 1];
const yTicksD = [-1, -0.5, 0, 0.5, 1];

const GENE_TITLE = "Annotation gene number";
const FONT = "'Liberation Sans', Arial, sans-serif";
const TEXT = "#2b2b2b";
const AXIS = "#9c9c9c";

const minusFix = (s: string) => s.replace("-", "\u2212");
const oneDecimal = (v: number) => minusFix(v.toFixed(1));
const plain = (v: number) => String(v);

type Note = { text: string; x: number; y: number; rot?: boolean; size?: number };

const notesPlugin = {
  id: "notes",
  afterDraw(chart: any, _a: any, opts: any) {
    const ctx = chart.ctx;
    (opts.items || []).forEach((n: Note) => {
      ctx.save();
      ctx.translate(n.x, n.y);
      if (n.rot) ctx.rotate(-Math.PI / 2);
      ctx.font = `${n.size || 18.8}px ${FONT}`;
      ctx.fillStyle = TEXT;
      ctx.textAlign = "center";
      ctx.textBaseline = "middle";
      ctx.fillText(n.text, 0, 0);
      ctx.restore();
    });
  },
};

const shiftYLabels = {
  id: "shiftYLabels",
  beforeDraw(chart: any, _a: any, opts: any) {
    if (!opts.by || chart.$shifted) return;
    chart.$shifted = true;
    chart.scales.y.getLabelItems().forEach((i: any) => {
      i.options.translation = [i.options.translation[0] - opts.by, i.options.translation[1]];
    });
  },
};

type Spec = {
  left: number; top: number; width: number; height: number;
  area: { l: number; t: number; r: number; b: number };
  points: P[];
  xMin: number; xMax: number; xTicks: number[]; xFmt: (v: number) => string; xCross: number;
  yMin: number; yMax: number; yTicks: number[]; yFmt: (v: number) => string; yCross?: number;
  smallX?: number[]; smallY?: number[];
  notes: Note[];
};

const Y_BOX = 60;

function makeConfig(s: Spec): any {
  const big = { family: FONT, size: 18.5 };
  const small = { family: "'DejaVu Sans', sans-serif", size: 10.5 };
  const tickFont = (list?: number[]) => (c: any) =>
    c.tick && list && list.includes(c.tick.value) ? small : big;
  const tickColor = (list?: number[]) => (c: any) =>
    c.tick && list && list.includes(c.tick.value) ? "#111" : TEXT;
  const grid = { display: true, drawOnChartArea: false, drawTicks: true, tickLength: 4, color: AXIS, lineWidth: 1 };
  const border = { display: true, color: AXIS, width: 1.2 };
  const dynamicY = s.yCross !== undefined;
  const x: any = {
    type: "linear", min: s.xMin, max: s.xMax, position: { y: s.xCross },
    afterBuildTicks: (a: any) => { a.ticks = s.xTicks.map((value) => ({ value })); },
    ticks: {
      autoSkip: false, maxRotation: 0, padding: 7,
      callback: (v: number) => s.xFmt(v), font: tickFont(s.smallX), color: tickColor(s.smallX),
    },
    grid, border,
  };
  const y: any = {
    type: "linear", min: s.yMin, max: s.yMax,
    position: dynamicY ? { x: s.yCross } : "left",
    afterBuildTicks: (a: any) => { a.ticks = s.yTicks.map((value) => ({ value })); },
    ticks: {
      autoSkip: false, padding: 8,
      callback: (v: number) => s.yFmt(v), font: tickFont(s.smallY), color: tickColor(s.smallY),
    },
    grid, border,
  };
  if (!dynamicY) y.afterFit = (a: any) => { a.width = Y_BOX; };
  return {
    type: "scatter",
    data: {
      datasets: [{
        data: s.points.map((p) => ({ x: p[0], y: p[1] })),
        clip: false,
        pointRadius: 3.6,
        pointBorderWidth: 1,
        backgroundColor: "rgba(100,144,198,0.32)",
        borderColor: "rgba(84,128,188,0.62)",
      }],
    },
    options: {
      responsive: false, maintainAspectRatio: false, animation: false, devicePixelRatio: 1,
      layout: {
        padding: {
          left: s.area.l - (dynamicY ? 0 : Y_BOX), top: s.area.t,
          right: s.width - s.area.r, bottom: s.height - s.area.b,
        },
      },
      scales: { x, y },
      plugins: {
        legend: { display: false }, tooltip: { enabled: false }, title: { display: false },
        notes: { items: s.notes },
        shiftYLabels: { by: dynamicY ? 12 : 0 },
      },
    },
    plugins: [notesPlugin, shiftYLabels],
  };
}

const specs: Spec[] = [
  {
    left: 0, top: 0, width: 584, height: 360,
    area: { l: 99, t: 33.5, r: 549, b: 289.5 },
    points: [...panelADense, ...panelADenseFill, ...panelAMiddle, ...panelASparse],
    xMin: 0, xMax: 500, xTicks: xTicksGene, xFmt: plain, xCross: 0,
    yMin: 0, yMax: 10, yTicks: yTicksA, yFmt: plain,
    notes: [
      { text: "A", x: 22, y: 25, size: 25 },
      { text: GENE_TITLE, x: 342, y: 339 },
      { text: "Original entropy information", x: 50, y: 162, rot: true },
    ],
  },
  {
    left: 584, top: 0, width: 584, height: 360,
    area: { l: 103.7, t: 33.5, r: 550, b: 289.5 },
    points: [...panelBDense, ...panelBDenseFill, ...panelBMiddle, ...panelBSparse],
    xMin: 0, xMax: 500, xTicks: xTicksGene, xFmt: plain, xCross: 0,
    yMin: 0, yMax: 1, yTicks: yTicksB, yFmt: oneDecimal,
    notes: [
      { text: "B", x: 15, y: 25, size: 25 },
      { text: GENE_TITLE, x: 345, y: 339 },
      { text: "Normalized entropy information", x: 47, y: 161, rot: true },
    ],
  },
  {
    left: 0, top: 360, width: 584, height: 360,
    area: { l: 98.3, t: 52.7, r: 540, b: 329 },
    points: [...panelCDense, ...panelCDenseFill, ...panelCMiddle, ...panelCSparse],
    xMin: 0, xMax: 500, xTicks: xTicksGene, xFmt: plain, xCross: 0,
    yMin: -0.5, yMax: 1, yTicks: yTicksC, yFmt: oneDecimal,
    notes: [
      { text: "C", x: 22, y: 41, size: 25 },
      { text: GENE_TITLE, x: 340, y: 286 },
      { text: "Correlation coefficient", x: 32, y: 191, rot: true },
    ],
  },
  {
    left: 584, top: 360, width: 584, height: 360,
    area: { l: 94.7, t: 55.7, r: 566.7, b: 331.7 },
    points: [...panelDCore, ...panelDCoreFill, ...panelDOuter],
    xMin: -1, xMax: 1, xTicks: xTicksD, xFmt: (v) => (v === 0 ? "0" : oneDecimal(v)), xCross: 1,
    yMin: -1, yMax: 1, yTicks: yTicksD, yCross: 0,
    yFmt: (v) => (v === 1 || v === 0 ? plain(v) : oneDecimal(v)),
    smallX: [0], smallY: [1, 0.5, 0],
    notes: [
      { text: "D", x: 14, y: 42, size: 25 },
      { text: "Normalized entropy information difference", x: 344, y: 38 },
      { text: "Correlation coefficient", x: 47, y: 191, rot: true },
    ],
  },
];

function Panel({ spec }: { spec: Spec }) {
  const ref = useRef<HTMLCanvasElement>(null);
  useEffect(() => {
    const chart = new Chart(ref.current as HTMLCanvasElement, makeConfig(spec));
    return () => chart.destroy();
  }, [spec]);
  return (
    <canvas
      ref={ref}
      width={spec.width}
      height={spec.height}
      style={{ position: "absolute", left: spec.left, top: spec.top, width: spec.width, height: spec.height }}
    />
  );
}

export default function App() {
  return (
    <div style={{ position: "absolute", left: 0, top: 0, width: 1168, height: 700, overflow: "hidden", background: "#fff" }}>
      {specs.map((s, i) => <Panel key={i} spec={s} />)}
    </div>
  );
}
